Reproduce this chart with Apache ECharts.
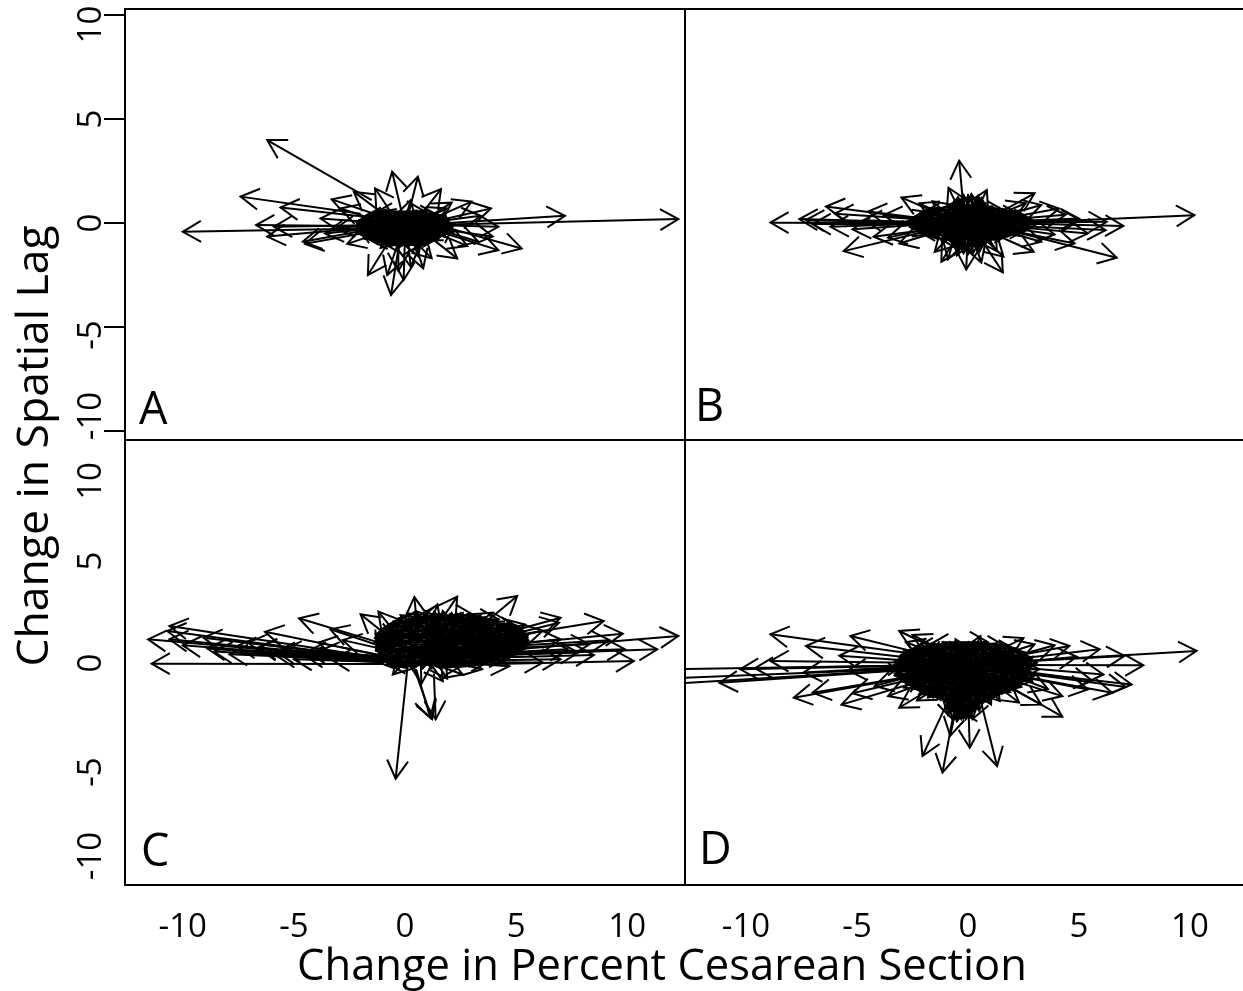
<!DOCTYPE html>
<html><head><meta charset="utf-8">
<script src="https://cdn.jsdelivr.net/npm/echarts@6/dist/echarts.min.js"></script>
<style>html,body{margin:0;padding:0;background:#fff}#c{width:1243px;height:991px}</style></head>
<body><div id="c"></div>
<script>
const tickValues = [-10, -5, 0, 5, 10];
const xAxisTitle = 'Change in Percent Cesarean Section';
const yAxisTitle = 'Change in Spatial Lag';
const panelLetters = ['A', 'B', 'C', 'D'];

// each arrow: [fromX, fromY, toX, toY]
const outerA = [[-1.5,1.1,-6.2,3.99],[-1,-.25,-10,-.42],[1,-.1,12.3,.19],[1.2,-.05,7.2,.35],[1.5,-.1,5.25,-1.22],[-2,.45,-7.4,1.27],[-1.8,.3,-5.6,.75],[-1.5,-.15,-6.7,-.1],[-1.5,-.2,-6.2,-.65],[-1,-.1,-5.9,-.18],[-1.5,-.3,-4.6,-.9],[-1.4,-.4,-4.5,-1],[-1,-.2,-3.6,-.5],[-.9,-.4,-2.6,-1],[-1,0,-3.8,.22],[-1,.3,-3.3,1.14],[-.8,.3,-2.3,1.5],[-.5,.3,-1.35,1.67],[-.1,.3,-.58,2.47],[.1,.2,.58,2.23],[.5,.1,1.62,1.63],[0,.1,.25,1.1],[1,0,3.87,.7],[1,.1,3,1.03],[.8,.1,2.1,.98],[.7,.1,1.87,.7],[1.2,-.1,4.2,-.18],[1,-.2,3.95,-.65],[1.2,-.3,4.2,-1.3],[.8,-.4,2.35,-1.7],[.3,-.5,.82,-2.18],[.1,-.5,1.2,-1.7],[-.5,-.5,-1.67,-2.5],[-.2,-.6,-.63,-3.46],[-.2,-.6,-.8,-2.5],[0,-.6,-.06,-2.74],[.1,-.6,.26,-2.1],[-.4,-.5,-1.1,-1.2],[1.2,-.2,3.3,-.9],[1,-.3,2.8,-1.1],[-.6,-.1,-2.9,.7],[-.7,0,-3.1,-.25],[.9,0,3.4,.35],[-.3,-.5,-.3,-2.3],[.2,-.4,.6,-1.6]];
const coreA = [[0,-.2,-2.1,.1],[0,-.2,-1.9,-.4],[.1,-.1,-1.7,.4],[-.1,-.3,-1.8,-.7],[0,0,-1.3,.5],[.2,-.2,-1.2,-.9],[0,-.3,-.9,.55],[.1,-.4,-.7,-1.1],[.2,-.1,-.5,.55],[.1,-.3,-.3,-1.2],[0,-.2,.1,.6],[-.1,-.3,.15,-1.2],[-.2,-.1,.5,.6],[-.1,-.3,.55,-1.1],[-.2,-.2,.9,.55],[-.1,-.4,1,-1],[-.1,-.1,1.3,.4],[-.1,-.3,1.5,-.8],[0,-.1,1.8,.3],[0,-.2,1.9,-.5],[-.1,-.2,2.2,-.1],[0,-.3,2.1,-.25],[.4,-.3,-1.2,-.1],[.3,-.1,-1.4,-.3],[-.4,-.1,1.2,-.35],[-.4,-.4,1.3,-.1],[.5,.1,-.8,-.6],[-.5,.1,.8,-.7],[.6,-.6,-.6,.3],[-.6,-.6,.6,.35],[.3,.2,-.3,-.8],[-.3,.2,.3,-.9],[.8,-.2,-.9,-.2],[-.9,-.3,.9,-.3],[.1,-.7,.2,.4],[-.2,.2,-.2,-.9],[1.2,-.5,.1,.2],[-1.2,-.5,-.1,.2],[1.1,.2,-.1,-.6],[-1.1,.1,.1,-.7],[.5,-.3,1.7,-.6],[-.5,-.3,-1.6,-.55],[.6,-.2,1.6,.15],[-.6,-.1,-1.6,.2],[.3,-.3,.7,.35],[-.3,-.2,-.7,.4],[.3,-.2,.7,-.95],[-.3,-.3,-.8,-.95],[.2,0,1.1,-.75],[-.2,0,-1.1,-.8],[1.5,-.1,.5,-.4],[-1.5,-.2,-.5,-.35],[0,.2,1.45,.1],[0,.2,-1.45,0],[0,-.7,1.4,-.55],[0,-.7,-1.4,-.6]];
const fillA = [[-2.2,-.5,-1,.3],[-2.1,0,-.9,-.8],[-1.7,.3,-.4,-.9],[-1.9,-.7,-.5,.4],[-1.4,.45,-.1,-.7],[-1.5,-.85,0,.35],[-1,.5,.4,-.8],[-1,-1,.4,.3],[-.5,.55,.9,-.9],[-.6,-1.05,.9,.2],[0,.55,1.3,-.8],[0,-1.1,1.4,.2],[.5,.5,1.8,-.6],[.5,-1.05,1.8,.1],[1,.4,2.2,-.4],[1,-.95,2.2,-.05],[2.2,-.5,.9,.35],[2.1,0,.8,-.85],[1.7,.25,.3,-.95],[1.8,-.7,.4,.4],[1.3,.45,-.1,-.85],[1.4,-.85,-.1,.45],[.9,.5,-.6,-.9],[.9,-.95,-.5,.45],[.4,.55,-1.1,-.85],[.4,-1.05,-1.1,.35],[-.1,.55,-1.6,-.6],[-.1,-1.1,-1.6,.15],[-.6,.5,-2.1,-.45],[-.6,-1,-2.1,-.1]];
const denseA = [[-1,.55,.9,.55],[1.2,.45,-1.4,.45],[-1.7,.35,1.5,.35],[1.7,.25,-1.9,.25],[-2.1,.15,1.8,.15],[1.9,.05,-2.2,.05],[-2.2,-.05,2,-.05],[2,-.15,-2.2,-.15],[-2.2,-.25,2,-.25],[2,-.35,-2.2,-.35],[-2.1,-.45,1.9,-.45],[1.8,-.55,-2,-.55],[-1.9,-.65,1.6,-.65],[1.3,-.75,-1.6,-.75],[-1.4,-.85,1.1,-.85],[.9,-.95,-1,-.95],[-.7,-1.05,.7,-1.05]];

const outerB = [[-.2,.7,-.4,3],[1,-.05,10.2,.38],[-1.5,0,-8.9,.02],[-1.2,0,-7.6,.19],[-1.2,0,-7.3,.14],[-1.4,.1,-6.4,.79],[-1.5,-.3,-5.6,-1.35],[1.5,-.25,6.7,-1.67],[1.4,0,7,-.14],[1.3,0,6.25,.06],[1.2,0,5.05,.15],[1,.05,5,.22],[1,.1,4.1,.7],[.9,.2,3,1.43],[-.8,.2,-3,1.23],[-.2,.2,-.88,1.7],[.2,.2,.85,1.59],[0,-.3,-.08,-2.23],[.3,-.3,1.57,-2.37],[-.3,-.3,-1.2,-1.86],[.3,-.3,1.6,-1.62],[.7,-.3,2.96,-1.38],[-.7,-.2,-3.1,-.98],[-1,-.2,-4.25,-.66],[-1.3,0,-6.2,-.18],[-1,0,-4.7,.14],[-1,.1,-3.8,.38],[1.2,-.2,4.8,-.98],[1,-.2,3.3,-.9],[1.2,-.1,5.4,-.5],[1.2,-.1,6.2,-.34],[-.4,-.2,-1.5,-1.38],[-.5,.1,-2.2,.95],[.8,.1,3.3,.87],[-1,.1,-6,.45],[-1,0,-5.2,-.3],[-1,-.1,-3.6,-.7],[1,.1,4.4,.4],[1,-.1,3.9,-.55],[.8,.15,2.6,.95],[-.6,.15,-1.6,1.05],[.6,-.2,1.3,-1.35],[-.5,-.2,-.9,-1.75],[.1,-.3,.6,-1.9],[-.1,-.3,-.5,-1.55],[-1.1,.1,-4.5,.55],[-1.2,-.05,-7,-.05]];
const coreB = [[0,0,-2.8,.05],[0,.1,-2.6,-.2],[0,0,-2.4,.3],[0,0,-2.2,-.45],[0,0,-1.9,.5],[0,0,-1.7,-.65],[0,.1,-1.4,.7],[0,0,-1.2,-.8],[0,0,-.9,.85],[0,0,-.7,-.9],[0,0,-.45,1.1],[0,0,-.4,-1.05],[0,0,0,1.3],[0,0,0,-1.3],[0,0,.4,1.1],[0,0,.4,-1.1],[0,0,.75,.9],[0,0,.7,-.95],[0,0,1.1,.8],[0,0,1.2,-.8],[0,0,1.5,.65],[0,0,1.7,-.65],[0,0,1.9,.5],[0,0,2.2,-.45],[0,0,2.4,.3],[0,0,2.6,-.25],[0,0,2.9,.02],[1,.1,-1.4,-.1],[1,-.1,-1.5,.1],[-1,.1,1.5,-.1],[-1,-.1,1.5,.15],[.6,.3,-.9,-.35],[.6,-.3,-.9,.35],[-.6,.3,.9,-.35],[-.6,-.3,.9,.35],[.3,.6,-.2,-.8],[.3,-.6,-.2,.8],[-.3,.6,.2,-.8],[-.3,-.6,.2,.8],[1.4,0,.2,.3],[1.4,0,.2,-.3],[-1.4,0,-.2,.3],[-1.4,0,-.2,-.3],[1.9,.1,.8,-.2],[1.9,-.1,.8,.2],[-1.9,.1,-.8,-.2],[-1.9,-.1,-.8,.2],[.1,.8,.7,.1],[-.1,.8,-.7,.1],[.1,-.8,.7,-.1],[-.1,-.8,-.7,-.1],[0,.9,0,-.2],[.2,-.9,.2,.2],[-.2,-.9,-.2,.2],[2.4,0,1.2,.1],[-2.4,0,-1.2,.1],[.9,.4,2,.05],[-.9,.4,-2,.05],[.9,-.4,2,-.05],[-.9,-.4,-2,-.05]];
const fillB = [[-3,-.1,-1.6,.5],[-3,.1,-1.6,-.5],[-2.2,.5,-.8,-.65],[-2.2,-.5,-.8,.65],[-1.5,.65,-.2,-.85],[-1.5,-.65,-.2,.85],[3,-.1,1.6,.5],[3,.1,1.6,-.5],[2.2,.5,.8,-.65],[2.2,-.5,.8,.65],[1.5,.65,.2,-.85],[1.5,-.65,.2,.85],[.7,1,.4,-.4],[-.7,1,-.4,-.4],[.7,-1.1,.4,.4],[-.7,-1.1,-.4,.4],[.5,.4,.45,1.3],[-.5,.4,-.45,1.25],[.5,-.4,.5,-1.4],[-.5,-.4,-.5,-1.35],[.2,.5,.15,1.4],[-.2,.5,-.2,1.35],[.2,-.5,.2,-1.5],[-.2,-.5,-.2,-1.45]];
const denseB = [[-.8,.75,.9,.75],[1.3,.65,-1.2,.65],[-1.7,.55,1.7,.55],[2.1,.45,-2.1,.45],[-2.3,.35,2.4,.35],[2.6,.25,-2.5,.25],[-2.6,.15,2.9,.15],[3,.05,-2.7,.05],[-2.7,-.05,3.1,-.05],[2.9,-.15,-2.6,-.15],[-2.5,-.25,2.7,-.25],[2.4,-.35,-2.3,-.35],[-2,-.45,2,-.45],[1.7,-.55,-1.6,-.55],[-1.2,-.65,1.3,-.65],[1,-.75,-1,-.75],[-.6,-1.1,-.6,1.1],[-.4,1.2,-.4,-1.3],[-.2,-1.4,-.2,1.3],[0,1.4,0,-1.5],[.2,-1.4,.2,1.3],[.4,1.3,.4,-1.3],[.6,-1.2,.6,1.2],[.8,1,.8,-1]];

const outerC = [[.15,.2,-.42,-5.56],[.4,-.2,1.22,-2.7],[1.3,-.5,1.38,-2.7],[.5,-.3,1.14,-2.63],[-1,-.05,-11.4,-.03],[-.5,.1,-11.56,1.14],[-.5,.15,-10.6,1.78],[-.5,.1,-10.7,1.54],[-.6,.1,-10.6,1.14],[-.6,.15,-9.07,1.22],[-.8,.1,-7.54,.82],[-.8,.15,-7.06,.98],[-1,.05,-5.77,.34],[-1,.35,-6.3,1.5],[-.6,.8,-4.77,2.15],[-.8,.3,-3.9,.98],[-.5,.6,-3.36,1.62],[-.2,.8,-2,2.34],[0,.9,-1.2,2.47],[.6,1.2,.42,3.17],[1.2,1.4,2.35,3.19],[.9,1.2,1.46,2.82],[3,1.4,5.05,3.22],[2.4,1.3,3.95,2.42],[3,1,7,2.18],[3,.9,6.93,1.94],[2.5,.9,8.94,2.02],[2.8,.7,9.8,1.41],[2.8,.7,9.2,1.1],[2,.4,12.3,1.3],[2,.3,11.35,.66],[2,-.1,10.3,.1],[2.3,.4,9.9,.66],[2.5,.6,8.3,.9],[2.8,.7,7,1.14],[2.3,.4,7.33,.66],[2,.1,7,.18],[1.5,.2,3.47,-.3],[1,.2,1.7,-.87],[.7,.3,.74,-1],[.2,.3,-.55,-.55],[-.7,.1,-8.6,.55],[-.7,.1,-7.9,.42],[-.8,.1,-10,.85],[-.7,.05,-8.9,.7],[-.9,.05,-5,.18],[-.8,.2,-6.6,.7],[-.7,.2,-5.5,.62],[-.6,.3,-4.4,.55],[2,.2,8.5,.38],[2,.3,7.8,.5],[1.6,.05,6.2,.02],[1.2,.1,4.7,-.15],[.9,.1,2.6,-.55],[1.3,.2,1.9,-.75],[3.5,.9,6.2,1.55],[3.2,1.2,5.4,1.85],[-.3,.5,-2.8,1.1],[-.9,.15,-5.8,.55],[-.9,.1,-4.5,.35],[-.9,.05,-3.3,.15],[-.9,.2,-6.6,.75],[-.8,.25,-3.8,.6]];
const coreC = [[1,.5,-1.35,.1],[1,.5,-1.3,.6],[1,.6,-1.2,1],[1,.6,-1,1.4],[1.2,.8,-.8,1.7],[1.2,.8,-.5,2],[1.4,1,-.2,2.3],[1.5,1,.1,2.4],[1.6,1,.5,2.5],[1.8,1.1,.9,2.5],[1.9,1.1,1.3,2.45],[2,1,1.7,2.5],[2,1,2.1,2.4],[2,1,2.5,2.4],[2,1,2.9,2.4],[2,1,3.3,2.25],[2,1,3.7,2.1],[2.2,1,4.1,2],[2.4,1,4.5,1.85],[2.6,1,4.9,1.7],[2.8,1,5.3,1.45],[3,.9,5.5,1.2],[3,.8,5.5,.9],[2.8,.8,5.2,.65],[2.6,.7,4.8,.5],[2.4,.6,4.4,.35],[2.2,.6,4,.15],[2,.6,3.6,.05],[1.8,.5,3.2,-.05],[1.6,.5,2.8,-.15],[1.4,.6,2.4,-.2],[1.2,.6,2,-.2],[1,.6,1.6,-.25],[1,.6,1.2,-.25],[1,.6,.8,-.25],[1,.6,.4,-.2],[1,.6,0,-.15],[1,.6,-.4,-.1],[1,.6,-.8,-.05],[3.2,1.5,.6,.4],[3.2,1.7,1,.3],[3.5,1.4,1.4,.5],[3.5,1.2,1.2,.7],[4,1.4,1.8,.9],[4,1.1,1.6,1],[4.3,1.5,2,1.2],[4.5,1,2,.7],[-.5,1.2,2,1.2],[-.3,.7,2.2,.9],[-.2,1.7,2,.7],[-.2,.5,2.4,1.4],[.2,2,2.4,.9],[.5,2,2.5,.4],[.8,2.2,2.2,.3],[1.2,2.2,1.8,.2],[1.6,2.2,1.4,.1],[2,2.1,1.2,.1],[2.4,2,1,.1],[2.8,2,.9,.3],[3.2,1.9,.8,.6],[3.6,1.8,1,.8],[4,1.7,1.2,1.1],[.2,.4,3,1.7],[.3,.2,3.2,1.3],[.6,.1,3.5,.9],[.8,.1,3.7,.6],[1.2,.1,3.6,.4]];
const fillC = [[-1.2,.4,.4,2.1],[-1,1.9,.4,.2],[-.4,.2,1,2.3],[-.3,2.2,1,.1],[.3,.1,1.8,2.4],[.4,2.4,1.8,.1],[1,.1,2.6,2.4],[1.2,2.4,2.6,.1],[1.8,.1,3.4,2.3],[2,2.4,3.4,.1],[2.6,.2,4.2,2.1],[2.8,2.3,4.2,.3],[3.4,.3,5,1.8],[3.6,2.1,5,.5],[4.2,.5,5.5,1.3],[4.2,1.9,5.5,.9],[-.8,1.6,-1.3,.6],[.6,2.3,-.8,.8],[1.6,2.4,.2,.5],[2.4,2.4,1,.6],[3.2,2.3,1.8,.5],[4,2,2.6,.5],[4.8,1.6,3.4,.5],[5.3,1.1,4,.4],[-.9,.6,.6,2.2],[.1,.4,1.4,2.3],[1,.4,2.2,2.3],[1.9,.4,3,2.3],[2.8,.4,3.8,2.1],[3.6,.5,4.6,1.9]];
const denseC = [[1.1,2.3,3.1,2.3],[3.7,2.2,.5,2.2],[0,2.1,4.2,2.1],[4.5,2,-.3,2],[-.6,1.9,4.8,1.9],[5,1.8,-.8,1.8],[-.95,1.7,5.15,1.7],[5.3,1.6,-1.1,1.6],[-1.2,1.5,5.4,1.5],[5.45,1.4,-1.3,1.4],[-1.35,1.3,5.5,1.3],[5.55,1.2,-1.35,1.2],[-1.35,1.1,5.55,1.1],[5.55,1,-1.35,1],[-1.35,.9,5.55,.9],[5.5,.8,-1.3,.8],[-1.3,.7,5.4,.7],[5.3,.6,-1.25,.6],[-1.2,.5,5.1,.5],[4.9,.4,-1.2,.4],[-1.15,.3,4.6,.3],[4.2,.2,-1.1,.2],[-1,.1,3.8,.1],[3.3,0,-.8,0],[-.5,-.1,2.6,-.1]];

const outerD = [[1,0,10.3,.58],[1.2,-.1,7.9,-.11],[1.2,-.3,7.37,-1.03],[1.2,-.3,7.1,-1.15],[1.1,0,7.05,.34],[1,.05,5.93,.66],[.9,.1,4.57,.82],[-1.5,.3,-8.9,1.38],[-1.5,0,-8.9,.1],[-1.3,.1,-7.3,.82],[-1.1,.2,-5.3,1.3],[-.7,.3,-3.1,1.54],[-.6,.3,-2.5,1.35],[-1,-.1,-10.26,-.3],[-1,-.2,-11.2,-.95],[-1,-.1,-15,-.32],[-1,-.2,-15,-.8],[-1,-.2,-15,-1.1],[-1.2,-.4,-7.85,-1.67],[-1.2,-.4,-7,-1.43],[-1,-.5,-5.7,-2],[-1,-.4,-5.2,-1.45],[-.7,-.6,-3.1,-2.15],[-.8,-.5,-3.6,-1.59],[-.8,-1.6,-2.05,-4.47],[-.5,-1.6,-1.15,-5.27],[0,-1.5,.08,-4.07],[.5,-1.5,1.31,-4.95],[-.4,-1.5,-.8,-3.5],[1,-.6,4.25,-2.58],[.9,-.6,3.3,-2],[.5,-.7,1.44,-1.83],[.7,-.6,2.3,-1.9],[.4,-.7,1.04,-1.99],[1,-.5,4.25,-1.59],[1.1,-.4,5.4,-1.27],[1.2,-.4,6.5,-1.43],[.1,.2,.56,1.3],[.4,.1,2.5,1.2],[-.1,.2,-.56,1.14],[1,-.1,6.1,-.55],[1.1,-.2,5.6,-.85],[1,0,3.9,.85],[1,-.1,4.9,.3],[-1.1,0,-5.8,.35],[-1.1,-.1,-5.4,-.35],[-1,-.2,-4.2,-1.1],[-.8,.2,-2.8,1],[-.5,-.6,-2.3,-1.8],[.7,.1,3,.9],[-1.2,-.1,-9.6,-.25],[-1.1,-.1,-7.4,-.45],[1,-.2,3.6,-1.25]];
const coreD = [[-.3,-.3,-3.5,-.2],[-.3,-.3,-3.3,.1],[-.3,-.3,-3.3,-.6],[-.3,-.3,-3,.4],[-.3,-.3,-2.9,-.9],[-.3,-.3,-2.5,.65],[-.3,-.3,-2.6,-1.2],[-.3,-.3,-2,.8],[-.3,-.3,-2.2,-1.5],[-.3,-.3,-1.6,.95],[-.3,-.3,-1.8,-1.65],[-.3,-.3,-1.1,1],[-.3,-.3,-1.3,-1.7],[-.3,-.3,-.6,1],[-.3,-.3,-.9,-2.2],[-.3,-.3,-.2,.95],[-.3,-.3,-.5,-2.5],[-.3,-.3,.3,1],[-.3,-.3,-.2,-2.65],[-.3,-.3,.8,1.05],[-.3,-.3,.1,-2.5],[-.3,-.3,1.3,.95],[-.3,-.3,.5,-2.1],[-.3,-.3,1.8,.85],[-.3,-.3,.9,-1.7],[-.3,-.3,2.2,.7],[-.3,-.3,1.4,-1.55],[-.3,-.3,2.6,.5],[-.3,-.3,1.9,-1.4],[-.3,-.3,2.9,.25],[-.3,-.3,2.4,-1.15],[-.3,-.3,3.1,0],[-.3,-.3,2.8,-.9],[-.3,-.3,3.2,-.3],[-.3,-.3,3,-.6],[.6,-.2,-1.8,-.35],[.7,-.5,-1.9,.1],[.6,.2,-1.7,-.8],[.8,.3,-.9,-1.1],[.8,-.8,-.9,.4],[-1.3,.3,.4,-1.1],[-1.3,-.9,.4,.5],[.2,.5,-.4,-1.4],[.2,-1.2,-.5,.5],[-.7,.5,-.1,-1.6],[-.8,-1.3,0,.6],[1.6,-.1,.4,-.6],[1.7,-.6,.5,.1],[-2,-.1,-.8,-.6],[-2.1,-.6,-.9,.1],[-.1,-1.6,.3,-.4],[-.5,-1.7,-.7,-.3],[-.2,-2,-.2,-.6],[.2,-1.5,-.2,-2.5],[-.6,-1.4,-.5,-2.4],[.1,-1.9,-.1,-.8],[-.8,-1.7,-.1,-2.2],[2.2,-.2,1,.4],[2.2,-.3,1,-1],[-2.5,-.2,-1.2,.5],[-2.5,-.3,-1.2,-1.1],[.2,.8,1.4,.2],[-.7,.8,-1.8,.2],[.3,-1.2,1.6,-.7],[-.8,-1.2,-2,-.7],[1,.6,2.3,.1],[-1.4,.6,-2.6,.1],[1,-1,2.3,-.6],[-1.4,-1,-2.7,-.55]];
const fillD = [[-3.6,-.6,-2,.7],[-3.6,0,-2,-1.3],[-2.6,.6,-1,-1.6],[-2.6,-1.4,-1,.9],[-1.6,.9,0,-1.8],[-1.6,-1.7,0,1],[-.6,1,1,-1.6],[-.6,-1.9,1,.9],[.4,1,2,-1.3],[.4,-1.8,2,.7],[1.2,.8,2.9,-.9],[1.2,-1.5,2.9,.3],[2.9,-.6,1.2,.8],[2.9,0,1.2,-1.4],[2,.7,.4,-1.7],[2,-1.2,.4,1],[.9,1,-.8,-1.9],[.9,-1.7,-.8,1],[-.1,1,-1.8,-1.6],[0,-1.8,-1.8,.9],[-1.1,1,-2.8,-1.1],[-1.1,-1.6,-2.8,.6],[-.8,-1,-.6,-2.4],[-.6,-1,-.9,-2.5],[-.4,-1,-.3,-2.7],[-.2,-1,-.5,-2.8],[0,-1,.1,-2.6],[.2,-1,-.1,-2.7],[.4,-1,.5,-2.3],[-.9,-2,-.2,-1],[.4,-2.2,-.3,-1],[-.5,-2.6,.1,-1.2],[-1,-1.5,-.7,-2.7],[.6,-1.5,.2,-2.7]];
const denseD = [[-1.2,1,.9,1],[1.3,.9,-1.7,.9],[-2.1,.8,1.7,.8],[2,.7,-2.4,.7],[-2.6,.6,2.2,.6],[2.4,.5,-2.8,.5],[-3,.4,2.5,.4],[2.6,.3,-3.1,.3],[-3.1,.2,2.7,.2],[2.7,.1,-3.2,.1],[-3.2,0,2.7,0],[2.8,-.1,-3.3,-.1],[-3.3,-.2,2.8,-.2],[2.8,-.3,-3.3,-.3],[-3.3,-.4,2.8,-.4],[2.8,-.5,-3.3,-.5],[-3.2,-.6,2.7,-.6],[2.7,-.7,-3.1,-.7],[-3,-.8,2.6,-.8],[2.5,-.9,-2.9,-.9],[-2.7,-1,2.3,-1],[2.1,-1.1,-2.5,-1.1],[-2.3,-1.2,1.9,-1.2],[1.7,-1.3,-2,-1.3],[-1.7,-1.4,1.5,-1.4],[1.2,-1.5,-1.5,-1.5],[-1.2,-1.6,1,-1.6],[.8,-1.7,-1,-1.7],[-.9,-1.8,.6,-1.8],[.5,-1.9,-.8,-1.9],[-.7,-2,.4,-2],[.3,-2.1,-.6,-2.1],[-.5,-2.2,.2,-2.2],[.1,-2.3,-.4,-2.3]];

const arrowSets = [outerA.concat(coreA, fillA, denseA), outerB.concat(coreB, fillB, denseB), outerC.concat(coreC, fillC, denseC), outerD.concat(coreD, fillD, denseD)];
const grids = [
  {left:125, top:9, width:560, height:431},
  {left:685, top:9, width:560, height:431},
  {left:125, top:440, width:560, height:445},
  {left:685, top:440, width:560, height:445}
];
const xRanges = [[-12.6,12.6],[-12.75,12.48],[-12.6,12.6],[-12.75,12.48]];
const yRanges = [[-10.43,10.29],[-10.43,10.29],[-10.67,10.72],[-10.67,10.72]];
const fontFamily = '"Open Sans", "Noto Sans", sans-serif';
const headLen = 21, headAngle = 30 * Math.PI / 180;

function renderArrow(params, api) {
  const a = api.coord([api.value(0), api.value(1)]);
  const b = api.coord([api.value(2), api.value(3)]);
  const ang = Math.atan2(a[1]-b[1], a[0]-b[0]);
  const p1 = [b[0]+headLen*Math.cos(ang+headAngle), b[1]+headLen*Math.sin(ang+headAngle)];
  const p2 = [b[0]+headLen*Math.cos(ang-headAngle), b[1]+headLen*Math.sin(ang-headAngle)];
  const style = {stroke:'#000', lineWidth:2, fill:null, lineJoin:'miter'};
  return {type:'group', children:[
    {type:'line', shape:{x1:a[0],y1:a[1],x2:b[0],y2:b[1]}, style:style},
    {type:'polyline', shape:{points:[p1,b,p2]}, style:style}
  ]};
}

// downward / upward nudge of the rotated y labels, as rich-text padding
const yRich = {};
[['p4',[0,4,0,0]],['p10',[0,10,0,0]],['p16',[0,16,0,0]],['p19',[0,19,0,0]],['p52',[0,52,0,0]],['l30',[0,0,0,30]]].forEach(([k,p]) => {
  yRich[k] = {fontSize:33, fontFamily, color:'#000', padding:p};
});
const yLabelFormat = [
  v => v===10 ? '{p19|10}' : v===-5 ? '{p16|-5}' : v===-10 ? '{l30|-10}' : String(v),
  null,
  v => v===10 ? '{p52|10}' : v===5 ? '{p4|5}' : v===-5 ? '{p10|-5}' : v===-10 ? '{l30|-10}' : String(v),
  null
];

const chart = echarts.init(document.getElementById('c'), null, {renderer:'canvas'});
chart.setOption({
  animation:false, backgroundColor:'#fff',
  grid: grids.map(g => Object.assign({show:true, borderColor:'#000', borderWidth:2, backgroundColor:'transparent', outerBoundsMode:'none'}, g)),
  xAxis: grids.map((g,i) => ({
    type:'value', gridIndex:i, min:xRanges[i][0], max:xRanges[i][1],
    axisLine:{show:false, onZero:false}, axisTick:{show:false}, splitLine:{show:false},
    axisLabel:{show:i>=2, customValues:tickValues, color:'#000', fontSize:33, fontFamily, margin:26, hideOverlap:false, showMinLabel:true, showMaxLabel:true}
  })),
  yAxis: grids.map((g,i) => ({
    type:'value', gridIndex:i, min:yRanges[i][0], max:yRanges[i][1],
    axisLine:{show:false, onZero:false}, splitLine:{show:false},
    axisTick:{show:i===0, length:21, customValues:tickValues, lineStyle:{color:'#000', width:2}},
    axisLabel:{show:i%2===0, customValues:tickValues, color:'#000', fontSize:33, fontFamily, rotate:90, margin:33, align:'center', verticalAlign:'middle', hideOverlap:false,
      formatter:yLabelFormat[i] || undefined, rich:yRich}
  })),
  series: arrowSets.map((arr,i) => ({
    type:'custom', xAxisIndex:i, yAxisIndex:i, clip:true, silent:true,
    encode:{x:[0,2], y:[1,3]}, data:arr, renderItem:renderArrow
  })),
  graphic:[
    {type:'text', left:139, top:389, style:{text:panelLetters[0], font:'45px '+fontFamily, fill:'#000'}},
    {type:'text', left:695, top:386, style:{text:panelLetters[1], font:'45px '+fontFamily, fill:'#000'}},
    {type:'text', left:141, top:831, style:{text:panelLetters[2], font:'45px '+fontFamily, fill:'#000'}},
    {type:'text', left:699, top:829, style:{text:panelLetters[3], font:'45px '+fontFamily, fill:'#000'}},
    {type:'text', x:662, y:968, style:{text:xAxisTitle, font:'43.5px '+fontFamily, fill:'#000', align:'center', verticalAlign:'middle'}},
    {type:'text', x:35, y:446, rotation:Math.PI/2, style:{text:yAxisTitle, font:'44.5px '+fontFamily, fill:'#000', align:'center', verticalAlign:'middle'}}
  ]
});
</script></body></html>
